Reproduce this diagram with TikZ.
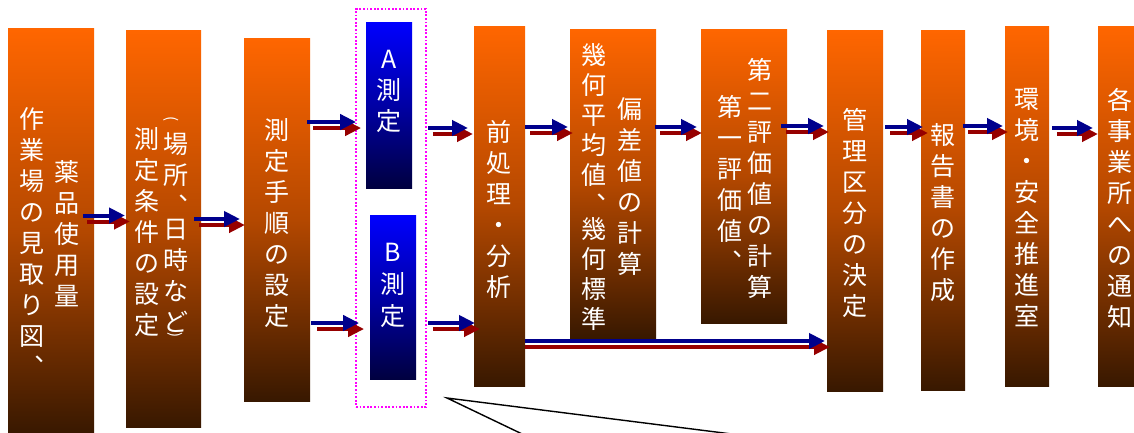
\documentclass[tikz,border=0pt]{standalone}
\usepackage{fontspec}
\newfontfamily\cjk{Noto Sans CJK JP}
\usetikzlibrary{arrows.meta,calc}
\definecolor{navyA}{RGB}{0,0,140}
\definecolor{redA}{RGB}{150,0,0}
\definecolor{orTop}{RGB}{255,102,0}
\definecolor{orMid}{RGB}{180,72,0}
\definecolor{orBot}{RGB}{56,24,0}
\definecolor{blTop}{RGB}{0,0,255}
\definecolor{blMid}{RGB}{0,0,165}
\definecolor{blBot}{RGB}{0,0,64}
\definecolor{magA}{RGB}{255,0,255}
\tikzset{
  obox/.style={rectangle, draw=none, inner sep=0pt, outer sep=0pt,
    top color=orTop, bottom color=orBot, middle color=orMid},
  bbox/.style={rectangle, draw=none, inner sep=0pt, outer sep=0pt,
    top color=blTop, bottom color=blBot, middle color=blMid},
  vt/.style={text=white, font=\cjk\fontsize{25}{31}\selectfont, align=center,
    inner sep=0pt, anchor=north},
  vparen/.style={text=white, font=\cjk\fontsize{15}{15}\selectfont,
    inner sep=0pt, rotate=-90},
  barr/.style={draw=navyA, line width=4pt, -{Triangle[length=16pt,width=15pt]}},
  rarr/.style={draw=redA, line width=4pt, -{Triangle[length=16pt,width=15pt]}},
  grpframe/.style={draw=magA, line width=1.8pt, dash pattern=on 1.8pt off 1.8pt,
    inner sep=0pt, rectangle},
}
\newcommand\dblarr[6]{%
  \draw[rarr] ($(#1.east |- 0,#5)+(#2+#6,6)$) -- ($(#3.west |- 0,#5)+(#4+5,6)$);
  \draw[barr] ($(#1.east |- 0,#5)+(#2,0)$) -- ($(#3.west |- 0,#5)+(#4,0)$);}
\begin{document}
\begin{tikzpicture}[x=1pt,y=-1pt]
\useasboundingbox (0,0) rectangle (1134,432);
\clip (0,0) rectangle (1134,432);
% boxes
\node[obox, minimum width=86pt, minimum height=406pt] (b1) at (51,231) {};
\node[obox, minimum width=75pt, minimum height=397pt] (b2) at (163.5,228.5) {};
\node[obox, minimum width=66pt, minimum height=363pt] (b3) at (277,219.5) {};
\node[bbox, minimum width=46pt, minimum height=166pt] (ba) at (389,105) {};
\node[bbox, minimum width=46pt, minimum height=164pt] (bb) at (393,297) {};
\node[obox, minimum width=51pt, minimum height=360pt] (b5) at (499.5,206) {};
\node[obox, minimum width=86pt, minimum height=309pt] (b6) at (613,183.5) {};
\node[obox, minimum width=86pt, minimum height=294pt] (b7) at (744,176) {};
\node[obox, minimum width=56pt, minimum height=361pt] (b8) at (855,210.5) {};
\node[obox, minimum width=44pt, minimum height=360pt] (b9) at (943,210) {};
\node[obox, minimum width=44pt, minimum height=360pt] (b10) at (1027,206) {};
\node[obox, minimum width=44pt, minimum height=360pt] (b11) at (1120,206) {};
\node[grpframe, minimum width=70pt, minimum height=398pt] (grp) at (391,208) {};
% texts
\node[vt] (t1a) at (32,107) {作\\業\\場\\の\\見\\取\\り\\図\\︑};
\node[vt] (t1b) at (67,160) {薬\\品\\使\\用\\量};
\node[vt] (t2a) at (147,127) {測\\定\\条\\件\\の\\設\\定};
\node[vparen] (t2p) at (171.5,119.5) {(};
\node[vt] (t2b) at (176,132) {場\\所\\︑\\[-8pt]日\\時\\な\\ど};
\node[vparen] (t2q) at (175,335) {)};
\node[vt] (t3) at (277,118) {測\\定\\手\\順\\の\\設\\定};
\node[vt] (ta) at (389,50) {A\\測\\定};
\node[vt] (tb) at (392.5,243) {B\\[1pt]測\\[1pt]定};
\node[vt] (t5) at (499,120) {前\\処\\理\\・\\分\\析};
\node[vt, font=\cjk\fontsize{25}{30}\selectfont] (t6a) at (594,43) {幾\\何\\平\\均\\値\\︑\\[-6pt]幾\\何\\標\\準};
\node[vt] (t6b) at (630,97) {偏\\差\\値\\の\\計\\算};
\node[vt] (t7a) at (730,95) {第\\一\\評\\価\\値\\︑};
\node[vt] (t7b) at (760,58) {第\\二\\評\\価\\値\\の\\計\\算};
\node[vt] (t8) at (855,108) {管\\理\\区\\分\\の\\決\\定};
\node[vt] (t9) at (943,123) {報\\告\\書\\の\\作\\成};
\node[vt] (t10) at (1027,88) {環\\境\\・\\安\\全\\推\\進\\室};
\node[vt] (t11) at (1120,88) {各\\事\\業\\所\\へ\\の\\通\\知};
% arrows
\dblarr{b1}{-11}{b2}{-1}{215.5}{4}
\dblarr{b2}{-7}{b3}{-4}{219}{5}
\dblarr{b3}{-3}{grp}{1}{122}{6}
\dblarr{b3}{1}{grp}{4}{323}{6}
\dblarr{grp}{1}{b5}{-6}{128}{5}
\dblarr{grp}{1}{b5}{1}{323}{5}
\dblarr{b5}{0}{b6}{-2}{127}{5}
\dblarr{b6}{-1}{b7}{-4}{127}{5}
\dblarr{b7}{-6}{b8}{-3}{126}{5}
\dblarr{b8}{2}{b9}{2}{127}{5}
\dblarr{b9}{-2}{b10}{-2}{126}{5}
\dblarr{b10}{3}{b11}{-5}{128}{5}
\dblarr{b5}{0}{b8}{-2}{341}{0}
% callout pointer
\coordinate (ct) at (447,398);
\coordinate (c1) at (518,432);
\coordinate (c2) at (716,432);
\draw[line width=1.4pt, line join=miter] ($(ct)!2!(c1)$) -- (ct) -- ($(ct)!2!(c2)$);
\end{tikzpicture}
\end{document}
